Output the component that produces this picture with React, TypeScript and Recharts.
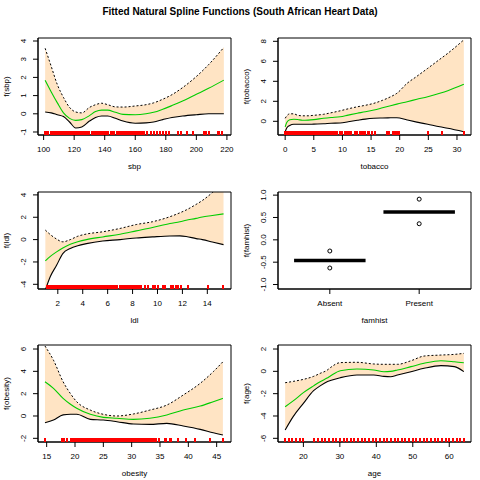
import React from 'react';
import { ComposedChart, Area, Line, Scatter, XAxis, YAxis, ReferenceArea } from 'recharts';

const FONT = '"Liberation Sans", Arial, Helvetica, sans-serif';
const BAND = '#FFE4C4';
const FIT = '#00CD00';
const RUG = '#FF0000';

// sbp
const sbpX = [101, 105, 109, 113, 117, 121, 125, 130, 134, 138, 142, 147, 152, 160, 167, 172, 178, 184, 191, 200, 208, 218];
const sbpFit = [1.84, 1.2, 0.6, 0.05, -0.25, -0.36, -0.32, -0.1, 0.12, 0.2, 0.2, 0.08, -0.03, -0.05, 0.0, 0.08, 0.25, 0.45, 0.7, 1.07, 1.4, 1.85];
const sbpUpper = [3.6, 2.6, 1.6, 0.9, 0.35, 0.1, 0.05, 0.35, 0.5, 0.58, 0.5, 0.38, 0.37, 0.43, 0.5, 0.6, 0.8, 1.05, 1.44, 2.05, 2.7, 3.65];
const sbpLower = [0.1, 0.05, -0.05, -0.15, -0.45, -0.78, -0.72, -0.4, -0.2, -0.12, -0.12, -0.25, -0.4, -0.52, -0.5, -0.45, -0.32, -0.2, -0.12, -0.05, 0.0, 0.0];
const sbpRug = [101, 102, 103, 105, 106, 107, 108, 109, 110, 111, 112, 113, 114, 115, 116, 117, 118, 119, 120, 121, 122, 123, 124, 125, 126, 127, 128, 129, 130, 132, 133, 134, 135, 136, 137, 138, 139, 140, 141, 142, 144, 145, 146, 148, 149, 150, 151, 152, 153, 154, 155, 156, 157, 158, 159, 160, 161, 162, 163, 164, 165, 166, 168, 170, 172, 174, 176, 178, 180, 182, 188, 190, 194, 198, 205, 206, 208, 214, 215, 217];
const sbpXTicks = [100, 120, 140, 160, 180, 200, 220];
const sbpYTicks = [-1, 0, 1, 2, 3, 4];

// tobacco
const tobX = [0, 0.3, 0.8, 1.5, 2.2, 3.0, 4.0, 5.0, 6.7, 8.0, 9.6, 11.0, 12.6, 14.0, 15.5, 17.0, 18.4, 19.5, 21.3, 23.0, 24.9, 27.0, 28.4, 31.2];
const tobFit = [-0.55, -0.1, 0.15, 0.2, 0.18, 0.1, 0.12, 0.17, 0.3, 0.38, 0.46, 0.62, 0.8, 0.95, 1.13, 1.35, 1.56, 1.72, 1.96, 2.2, 2.46, 2.8, 3.06, 3.7];
const tobUpper = [0.3, 0.55, 0.75, 0.75, 0.6, 0.55, 0.55, 0.6, 0.7, 0.85, 1.05, 1.25, 1.45, 1.6, 1.8, 2.1, 2.45, 2.8, 3.8, 4.5, 5.3, 6.2, 6.8, 8.15];
const tobLower = [-1.05, -0.65, -0.42, -0.3, -0.3, -0.3, -0.3, -0.28, -0.25, -0.2, -0.17, -0.05, 0.1, 0.22, 0.3, 0.33, 0.35, 0.36, 0.13, -0.08, -0.3, -0.55, -0.7, -1.05];
const tobRug = [0, 0.05, 0.2, 0.4, 0.5, 0.6, 0.8, 1.0, 1.2, 1.4, 1.5, 1.6, 1.8, 2.0, 2.2, 2.4, 2.5, 2.6, 2.8, 3.0, 3.2, 3.4, 3.5, 3.6, 3.8, 4.0, 4.2, 4.4, 4.5, 4.6, 4.8, 5.0, 5.2, 5.4, 5.5, 5.6, 5.8, 6.0, 6.2, 6.4, 6.5, 6.6, 6.8, 7.0, 7.2, 7.4, 7.5, 7.6, 7.8, 8.0, 8.2, 8.45, 8.7, 9.1, 9.6, 10.0, 10.5, 10.8, 11.2, 11.5, 12.2, 12.6, 13.0, 13.4, 13.7, 14.0, 14.4, 14.7, 15.1, 15.7, 17.8, 18.1, 18.9, 19.2, 19.5, 19.8, 25.0, 27.4, 31.2];
const tobXTicks = [0, 5, 10, 15, 20, 25, 30];
const tobYTicks = [0, 2, 4, 6, 8];

// ldl
const ldlX = [1.0, 1.4, 1.9, 2.4, 3.0, 3.6, 4.3, 5.6, 7.0, 8.3, 9.6, 11.0, 11.8, 12.3, 13.1, 13.6, 14.4, 15.3];
const ldlFit = [-1.9, -1.5, -1.1, -0.75, -0.42, -0.2, 0.0, 0.24, 0.48, 0.78, 1.08, 1.44, 1.6, 1.73, 1.9, 2.03, 2.15, 2.3];
const ldlUpper = [0.85, 0.45, 0.05, -0.2, 0.0, 0.3, 0.5, 0.7, 1.0, 1.35, 1.6, 2.05, 2.4, 2.65, 3.15, 3.5, 4.2, 5.1];
const ldlLower = [-4.5, -3.3, -2.3, -1.25, -0.8, -0.55, -0.36, -0.12, 0.0, 0.15, 0.24, 0.32, 0.33, 0.28, 0.09, 0.0, -0.21, -0.45];
const ldlRug = [1.12, 1.3, 1.47, 1.65, 1.75, 1.87, 1.95, 2.06, 2.17, 2.28, 2.37, 2.48, 2.58, 2.69, 2.78, 2.88, 2.99, 3.09, 3.18, 3.29, 3.38, 3.48, 3.58, 3.67, 3.78, 3.88, 3.97, 4.08, 4.18, 4.27, 4.38, 4.48, 4.58, 4.67, 4.77, 4.87, 4.97, 5.08, 5.17, 5.27, 5.38, 5.48, 5.57, 5.67, 5.77, 5.87, 5.98, 6.08, 6.17, 6.27, 6.38, 6.48, 6.57, 6.67, 6.78, 6.98, 7.08, 7.18, 7.28, 7.38, 7.48, 7.58, 7.67, 7.77, 7.87, 7.97, 8.07, 8.17, 8.3, 8.45, 8.6, 8.7, 9.0, 9.25, 9.65, 9.8, 10.05, 10.45, 10.6, 11.1, 11.25, 11.5, 11.65, 11.9, 12.45, 14.05, 15.25];
const ldlXTicks = [2, 4, 6, 8, 10, 12, 14];
const ldlYTicks = [-4, -2, 0, 2, 4];

// famhist
const famLevels = ['Absent', 'Present'];
const famFit = [-0.46, 0.62];
const famUpper = [-0.25, 0.91];
const famLower = [-0.63, 0.36];
const famYTicks = [-1, -0.5, 0, 0.5, 1];

// obesity
const obX = [14.7, 16.2, 17.9, 19.2, 20.3, 22.7, 25.0, 27.4, 30.3, 33.2, 36.2, 39.1, 42.1, 44.4, 46.1];
const obFit = [3.07, 2.48, 1.58, 1.05, 0.69, 0.15, -0.12, -0.2, -0.3, -0.2, 0.09, 0.53, 0.89, 1.28, 1.58];
const obUpper = [6.27, 5.0, 3.07, 2.0, 1.28, 0.53, 0.15, 0.0, 0.18, 0.53, 0.98, 1.88, 2.93, 3.97, 4.86];
const obLower = [-0.6, -0.36, 0.1, 0.15, 0.15, -0.3, -0.36, -0.51, -0.72, -0.75, -0.66, -0.9, -1.2, -1.5, -1.7];
const obRug = [14.76, 17.7, 18.06, 18.5, 18.65, 19.22, 19.41, 19.6, 19.79, 19.98, 20.17, 20.36, 20.55, 20.74, 20.93, 21.12, 21.31, 21.5, 21.69, 21.88, 22.07, 22.26, 22.45, 22.64, 22.83, 23.02, 23.21, 23.4, 23.59, 23.78, 23.97, 24.16, 24.35, 24.54, 24.73, 24.92, 25.11, 25.3, 25.49, 25.68, 25.87, 26.06, 26.25, 26.44, 26.63, 26.82, 27.01, 27.2, 27.39, 27.58, 27.77, 27.96, 28.15, 28.34, 28.53, 28.72, 28.91, 29.1, 29.29, 29.48, 29.86, 30.05, 30.24, 30.43, 30.62, 30.81, 31.0, 31.19, 31.38, 31.57, 31.76, 31.95, 32.14, 32.33, 32.52, 32.71, 32.9, 33.2, 33.5, 33.8, 34.1, 34.35, 34.8, 34.9, 35.8, 36.1, 36.7, 37.0, 38.2, 39.65, 41.1, 43.8, 46.1];
const obXTicks = [15, 20, 25, 30, 35, 40, 45];
const obYTicks = [-2, 0, 2, 4, 6];

// age
const ageX = [15, 17.2, 20, 22.8, 24.6, 26.5, 27.4, 30.1, 34.7, 39.3, 42.1, 43.9, 45.8, 49.5, 53.1, 57.7, 61.4, 64];
const ageFit = [-3.17, -2.65, -1.91, -1.3, -0.93, -0.6, -0.42, 0.06, 0.21, 0.12, -0.03, 0.0, 0.12, 0.42, 0.72, 0.95, 0.86, 0.77];
const ageUpper = [-1.02, -0.9, -0.72, -0.45, -0.18, 0.1, 0.33, 0.78, 0.81, 0.66, 0.63, 0.63, 0.63, 0.95, 1.37, 1.46, 1.52, 1.61];
const ageLower = [-5.26, -4.06, -2.87, -1.73, -1.3, -0.93, -0.82, -0.57, -0.33, -0.33, -0.45, -0.48, -0.33, -0.03, 0.27, 0.51, 0.42, -0.03];
const ageRug = [15, 16, 17, 18, 19, 20, 23, 24, 25, 26, 27, 28, 29, 30, 31, 32, 33, 34, 35, 36, 37, 38, 39, 40, 41, 42, 43, 44, 45, 46, 47, 48, 49, 50, 51, 52, 53, 54, 55, 56, 57, 58, 59, 60, 61, 62, 63, 64];
const ageXTicks = [20, 30, 40, 50, 60];
const ageYTicks = [-6, -4, -2, 0, 2];

const BOX_W = 193;
const BOX_H = 97;
const AXIS_W = 40;
const AXIS_H = 25;
const PAD = 5;
const COL_LEFT = [38, 278];
const ROW_TOP = [38, 192, 345];

function toRows(xs, fit, upper, lower) {
  return xs.map((x, i) => ({ x, fit: fit[i], upper: upper[i], lower: lower[i], band: [lower[i], upper[i]] }));
}

function XTick(props) {
  const { x, y, payload, fmt } = props;
  return (
    <text x={x} y={y + 11.5} textAnchor="middle" fontSize={8} fontFamily={FONT} fill="#000">
      {fmt ? fmt(payload.value) : String(payload.value)}
    </text>
  );
}

function YTick(props) {
  const { x, y, payload, fmt } = props;
  const bx = x - 7;
  return (
    <text x={bx} y={y} transform={`rotate(-90 ${bx} ${y})`} textAnchor="middle" fontSize={8} fontFamily={FONT} fill="#000">
      {fmt ? fmt(payload.value) : String(payload.value)}
    </text>
  );
}

function makeRug(width) {
  return (p) => (
    <line x1={p.cx} x2={p.cx} y1={p.cy} y2={p.cy - 4.5} stroke={RUG} strokeWidth={width} shapeRendering="crispEdges" />
  );
}

function Frame({ left, top, xDomain, yDomain, xTicks, yTicks, xFmt, yFmt, children }) {
  return (
    <div style={{ position: 'absolute', left: left - AXIS_W, top: top - PAD }}>
      <ComposedChart width={BOX_W + AXIS_W + PAD} height={BOX_H + PAD + AXIS_H} margin={{ top: PAD, right: PAD, bottom: 0, left: 0 }}>
        <XAxis dataKey="x" type="number" domain={xDomain} ticks={xTicks} allowDataOverflow interval={0}
          stroke="#000" tickSize={5} tickMargin={0} height={AXIS_H} tick={<XTick fmt={xFmt} />} />
        <YAxis type="number" domain={yDomain} ticks={yTicks} allowDataOverflow interval={0}
          stroke="#000" tickSize={5} tickMargin={0} width={AXIS_W} tick={<YTick fmt={yFmt} />} />
        {children}
        <ReferenceArea x1={xDomain[0]} x2={xDomain[1]} y1={yDomain[0]} y2={yDomain[1]} fill="none" stroke="#000" strokeWidth={1} />
      </ComposedChart>
    </div>
  );
}

function SplinePanel({ left, top, rows, rug, rugWidth = 2, xDomain, yDomain, xTicks, yTicks }) {
  const rugRows = rug.map((v) => ({ x: v, y: yDomain[0] }));
  return (
    <Frame left={left} top={top} xDomain={xDomain} yDomain={yDomain} xTicks={xTicks} yTicks={yTicks}>
      <Area data={rows} dataKey="band" type="monotone" stroke="none" fill={BAND} fillOpacity={1} isAnimationActive={false} />
      <Line data={rows} dataKey="upper" type="monotone" stroke="#000" strokeWidth={1} strokeDasharray="2 2" dot={false} isAnimationActive={false} />
      <Line data={rows} dataKey="lower" type="monotone" stroke="#000" strokeWidth={1.1} dot={false} isAnimationActive={false} />
      <Line data={rows} dataKey="fit" type="monotone" stroke={FIT} strokeWidth={1.1} dot={false} isAnimationActive={false} />
      <Scatter data={rugRows} dataKey="y" shape={makeRug(rugWidth)} isAnimationActive={false} />
    </Frame>
  );
}

function FactorPanel({ left, top }) {
  const segs = famLevels.map((_, i) => [
    { x: i + 0.6, y: famFit[i] },
    { x: i + 1.4, y: famFit[i] },
  ]);
  const pts = famLevels.flatMap((_, i) => [
    { x: i + 1, y: famUpper[i] },
    { x: i + 1, y: famLower[i] },
  ]);
  return (
    <Frame left={left} top={top} xDomain={[0.42, 2.58]} yDomain={[-1.1, 1.07]} xTicks={[1, 2]} yTicks={famYTicks}
      xFmt={(v) => famLevels[v - 1]} yFmt={(v) => v.toFixed(1)}>
      {segs.map((s, i) => (
        <Line key={i} data={s} dataKey="y" stroke="#000" strokeWidth={3.5} dot={false} isAnimationActive={false} />
      ))}
      <Scatter data={pts} dataKey="y" isAnimationActive={false}
        shape={(p) => <circle cx={p.cx} cy={p.cy} r={2} fill="none" stroke="#000" strokeWidth={1} />} />
    </Frame>
  );
}

const labels = [
  { x: 'sbp', y: 'f(sbp)', col: 0, row: 0 },
  { x: 'tobacco', y: 'f(tobacco)', col: 1, row: 0 },
  { x: 'ldl', y: 'f(ldl)', col: 0, row: 1 },
  { x: 'famhist', y: 'f(famhist)', col: 1, row: 1 },
  { x: 'obesity', y: 'f(obesity)', col: 0, row: 2 },
  { x: 'age', y: 'f(age)', col: 1, row: 2 },
];

export default function App() {
  return (
    <div style={{ position: 'absolute', left: 0, top: 0, width: 480, height: 480, background: '#fff', fontFamily: FONT }}>
      <SplinePanel left={COL_LEFT[0]} top={ROW_TOP[0]} rows={toRows(sbpX, sbpFit, sbpUpper, sbpLower)} rug={sbpRug}
        xDomain={[96.32, 222.68]} yDomain={[-1.165, 4.165]} xTicks={sbpXTicks} yTicks={sbpYTicks} />
      <SplinePanel left={COL_LEFT[1]} top={ROW_TOP[0]} rows={toRows(tobX, tobFit, tobUpper, tobLower)} rug={tobRug}
        xDomain={[-1.25, 32.45]} yDomain={[-1.37, 8.33]} xTicks={tobXTicks} yTicks={tobYTicks} />
      <SplinePanel left={COL_LEFT[0]} top={ROW_TOP[1]} rows={toRows(ldlX, ldlFit, ldlUpper, ldlLower)} rug={ldlRug}
        xDomain={[0.41, 15.9]} yDomain={[-4.42, 4.26]} xTicks={ldlXTicks} yTicks={ldlYTicks} />
      <FactorPanel left={COL_LEFT[1]} top={ROW_TOP[1]} />
      <SplinePanel left={COL_LEFT[0]} top={ROW_TOP[2]} rows={toRows(obX, obFit, obUpper, obLower)} rug={obRug}
        xDomain={[13.47, 47.53]} yDomain={[-2.33, 6.36]} xTicks={obXTicks} yTicks={obYTicks} />
      <SplinePanel left={COL_LEFT[1]} top={ROW_TOP[2]} rows={toRows(ageX, ageFit, ageUpper, ageLower)} rug={ageRug}
        xDomain={[13.04, 65.96]} yDomain={[-6.33, 2.36]} xTicks={ageXTicks} yTicks={ageYTicks} />
      <svg width={480} height={480} style={{ position: 'absolute', left: 0, top: 0, pointerEvents: 'none' }}>
        <text x={240} y={14.5} textAnchor="middle" fontSize={10} fontWeight="bold" fontFamily={FONT} fill="#000">
          Fitted Natural Spline Functions (South African Heart Data)
        </text>
        {labels.map((l) => {
          const bx = COL_LEFT[l.col];
          const by = ROW_TOP[l.row];
          const yx = l.col * 240 + 9;
          const yy = by + BOX_H / 2;
          return (
            <g key={l.x}>
              <text x={bx + BOX_W / 2} y={by + BOX_H + 34} textAnchor="middle" fontSize={8} fontFamily={FONT} fill="#000">{l.x}</text>
              <text x={yx} y={yy} transform={`rotate(-90 ${yx} ${yy})`} textAnchor="middle" fontSize={8} fontFamily={FONT} fill="#000">{l.y}</text>
            </g>
          );
        })}
      </svg>
    </div>
  );
}
